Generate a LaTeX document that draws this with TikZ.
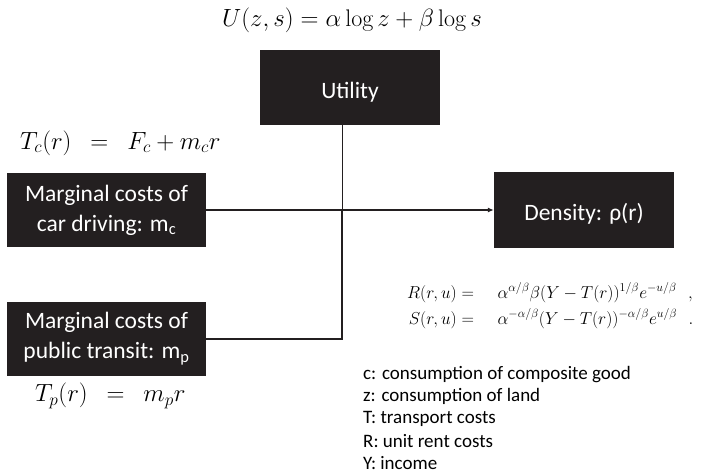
\documentclass[tikz,border=0pt]{standalone}
\usepackage{amsmath}
\usepackage{fontspec}
\newfontfamily\calib{Carlito}
\usepackage{tikz}
\usetikzlibrary{calc,arrows.meta}
\definecolor{boxblack}{HTML}{231F20}
\tikzset{
  darkbox/.style={fill=boxblack, text=white, align=center, inner sep=0pt,
    font=\calib\fontsize{23.5}{30}\selectfont, execute at begin node={\rule{0pt}{25pt}}},
  link/.style={draw=boxblack, line width=1.5pt},
  formula/.style={inner sep=0pt, font=\fontsize{24}{28}\selectfont},
  legend/.style={inner sep=0pt, anchor=west, font=\calib\fontsize{19}{22}\selectfont}
}

\begin{document}
\begin{tikzpicture}[x=1pt,y=-1pt]
\useasboundingbox (0,0) rectangle (716,473);
\node[darkbox, minimum width=180pt, minimum height=75pt] (util) at (350,87.5) {Utility};
\node[darkbox, minimum width=199pt, minimum height=74pt] (car) at (106.5,210) {Marginal costs of\\car driving: m\textsubscript{c}};
\node[darkbox, minimum width=199pt, minimum height=74pt] (transit) at (106.5,339) {Marginal costs of\\public transit: m\textsubscript{p}};
\node[darkbox, minimum width=180pt, minimum height=76pt] (dens) at (584,210) {Density: ρ(r)};
\coordinate (knee) at (342,339);
\node[formula] (ueq) at (352,20) {$U(z,s)=\alpha\log z+\beta\log s$};
\node[formula, anchor=west] (tceq) at (20,143) {$T_c(r)\enspace=\enspace F_c+m_cr$};
\node[formula, anchor=west] (tpeq) at (35,396) {$T_p(r)\enspace=\enspace m_pr$};
\node[inner sep=0pt, anchor=west, font=\fontsize{18.7}{20}\selectfont] (rseq) at (407,306.5)
  {$\begin{aligned}
    R(r,u) ={}&\quad\alpha^{\alpha/\beta}\beta(Y-T(r))^{1/\beta}e^{-u/\beta}\ \ ,\\
    S(r,u) ={}&\quad\alpha^{-\alpha/\beta}(Y-T(r))^{-\alpha/\beta}e^{u/\beta}\ \ .
  \end{aligned}$};
\foreach \txt [count=\i] in {c: consumption of composite good, z: consumption of land,
  T: transport costs, R: unit rent costs, Y: income}
  \node[legend] (leg\i) at (363,{374.5+22.2*(\i-1)}) {\txt};
%\draw[help lines] (0,0) grid[step=50] (716,473);
\draw[link, -{Latex[length=6pt,width=5pt]}] (car) -- (dens);
\draw[thin, boxblack] (util.south -| knee) -- (knee |- car.east);
\draw[link] (knee |- car.east) -- (knee) -- (transit.east);
\end{tikzpicture}
\end{document}
